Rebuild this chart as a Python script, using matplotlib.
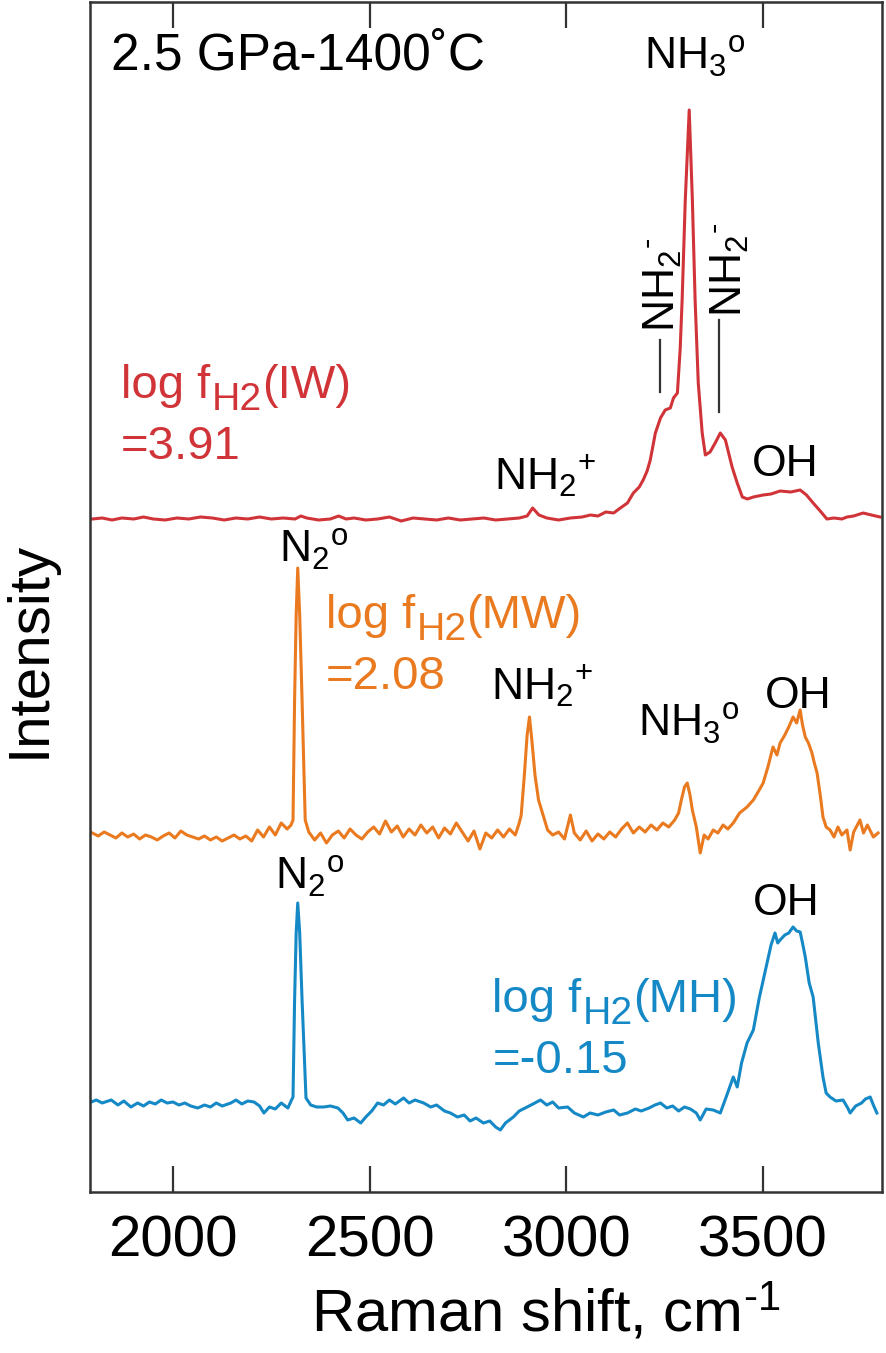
import matplotlib
matplotlib.use("Agg")
import matplotlib.pyplot as plt
import numpy as np

# ── Data (x: Raman shift cm-1, y: intensity above own baseline, a.u.) ──

red_shift = [1795, 1820, 1845, 1870, 1900, 1925, 1950, 1980, 2010, 2040, 2070, 2100,
             2130, 2160, 2190, 2220, 2250, 2280, 2310, 2325, 2340, 2370, 2400, 2421,
             2440, 2460, 2490, 2520, 2550, 2580, 2610, 2640, 2670, 2700, 2730, 2760,
             2790, 2820, 2850, 2880, 2900, 2914, 2930, 2950, 2980, 3010, 3040, 3061,
             3080, 3100, 3120, 3137, 3155, 3170, 3185, 3195, 3205, 3213, 3226, 3239,
             3251, 3264, 3272, 3282, 3289, 3294, 3302, 3312, 3320, 3327, 3335, 3345,
             3353, 3365, 3378, 3391, 3404, 3421, 3434, 3447, 3460, 3475, 3500, 3520,
             3543, 3570, 3594, 3610, 3627, 3645, 3662, 3680, 3700, 3713, 3730, 3754,
             3775, 3797]
red_int = [0, 1, -1, 1, 0, 2, 0, -1, 1, 0, 2, 1,
           -1, 1, 0, 2, 0, 1, 0, 3, 1, -1, 0, 3,
           0, 1, -1, 0, 2, -2, 1, 0, -1, 1, -1, 0,
           1, -1, 0, 1, 3, 11, 4, 1, -1, 1, 2, 4,
           3, 7, 6, 11, 16, 26, 32, 39, 48, 59, 86, 101,
           109, 111, 121, 126, 170, 219, 319, 409, 319, 219, 136, 86,
           64, 67, 76, 86, 79, 52, 36, 22, 20, 22, 24, 25,
           28, 27, 29, 24, 16, 8, 0, 1, 0, 2, 3, 6,
           4, 2]

orange_shift = [1795, 1810, 1825, 1840, 1855, 1870, 1885, 1900, 1915, 1930, 1945, 1960,
                1975, 1990, 2005, 2020, 2035, 2050, 2065, 2080, 2095, 2110, 2125, 2140,
                2155, 2170, 2185, 2200, 2215, 2230, 2245, 2260, 2275, 2290, 2300, 2305,
                2309, 2313, 2317, 2322, 2328, 2336, 2345, 2360, 2375, 2390, 2405, 2420,
                2435, 2450, 2465, 2480, 2495, 2510, 2525, 2540, 2555, 2570, 2585, 2600,
                2615, 2630, 2645, 2660, 2675, 2690, 2705, 2720, 2735, 2750, 2765, 2780,
                2795, 2810, 2825, 2840, 2855, 2870, 2880, 2885, 2893, 2900, 2906, 2912,
                2920, 2929, 2939, 2952, 2965, 2980, 2995, 3010, 3020, 3035, 3050, 3065,
                3080, 3095, 3110, 3125, 3140, 3155, 3170, 3185, 3200, 3215, 3230, 3245,
                3260, 3275, 3285, 3292, 3300, 3307, 3314, 3320, 3330, 3340, 3350, 3360,
                3373, 3385, 3398, 3410, 3424, 3440, 3459, 3475, 3490, 3500, 3512, 3525,
                3535, 3543, 3555, 3565, 3576, 3585, 3594, 3600, 3607, 3615, 3624, 3630,
                3637, 3645, 3652, 3660, 3670, 3680, 3690, 3700, 3713, 3721, 3730, 3746,
                3755, 3765, 3780, 3792]
orange_int = [2, -1, 3, 0, -3, 2, -2, 1, -4, 0, -2, -5,
              -1, 2, -3, 4, 0, -2, -4, -1, -5, -2, -6, -3,
              0, -4, -1, -6, 5, -2, 8, 0, 12, 6, 10, 15,
              135, 220, 267, 220, 135, 15, 3, -5, 2, -8, 0, 4,
              -3, 6, 0, -4, 3, 8, 1, 14, 3, 9, -2, 6,
              0, 10, 2, 8, -3, 7, 1, 12, 3, -6, 4, -14,
              2, -3, 5, -2, 6, 0, 12, 20, 60, 100, 118, 95,
              60, 35, 22, 5, 0, 3, -4, 20, 2, -5, 4, -6,
              1, -4, 3, -2, 6, 12, 2, 8, 3, 10, 5, 12,
              8, 15, 22, 35, 48, 52, 40, 25, 8, -18, 0, -4,
              5, 2, 10, 6, 12, 22, 28, 35, 45, 52, 68, 88,
              80, 92, 100, 108, 118, 112, 125, 110, 98, 92, 82, 72,
              62, 40, 18, 8, 5, -2, 8, 0, 5, -15, 3, 15,
              2, 10, -2, 2]

blue_shift = [1792, 1805, 1820, 1843, 1860, 1875, 1893, 1910, 1925, 1940, 1955, 1970,
              1985, 2000, 2015, 2030, 2045, 2063, 2080, 2095, 2110, 2125, 2147, 2160,
              2175, 2190, 2206, 2220, 2231, 2245, 2260, 2275, 2292, 2300, 2305, 2309,
              2313, 2317, 2322, 2328, 2338, 2350, 2365, 2383, 2400, 2419, 2432, 2444,
              2460, 2477, 2490, 2505, 2520, 2535, 2550, 2565, 2586, 2600, 2615, 2637,
              2655, 2670, 2690, 2705, 2723, 2740, 2755, 2770, 2789, 2805, 2820, 2832,
              2845, 2865, 2880, 2895, 2910, 2934, 2950, 2965, 2980, 3003, 3020, 3043,
              3060, 3080, 3100, 3120, 3135, 3155, 3175, 3190, 3210, 3225, 3239, 3255,
              3270, 3285, 3300, 3315, 3330, 3340, 3355, 3373, 3391, 3405, 3424, 3434,
              3445, 3459, 3475, 3490, 3510, 3520, 3530, 3537, 3543, 3555, 3565, 3576,
              3585, 3594, 3600, 3607, 3617, 3627, 3640, 3652, 3660, 3670, 3685, 3703,
              3715, 3721, 3735, 3750, 3760, 3772, 3780, 3789]
blue_int = [1, 3, 0, 3, -2, 2, -4, 0, -3, 1, -1, 3,
            0, 1, -2, 0, -3, -5, -2, -4, 0, -3, 0, 3,
            -1, 2, 1, -3, -10, -4, -6, 0, -5, 2, 6, 103,
            170, 200, 170, 103, 5, -2, -4, -4, -3, -5, -10, -17,
            -15, -20, -14, -8, 0, -2, 3, -1, 5, 0, 3, 0,
            -4, -2, -8, -10, -14, -12, -18, -15, -20, -18, -24, -27,
            -20, -14, -8, -5, -2, 3, -2, 1, -5, -4, -10, -14,
            -10, -12, -9, -7, -12, -10, -6, -8, -5, -2, 0, -5,
            -3, -8, -4, -6, -10, -17, -6, -7, -10, 5, 26, 16,
            40, 60, 73, 105, 140, 158, 170, 160, 163, 168, 170, 176,
            172, 171, 160, 146, 120, 106, 60, 26, 10, 6, 2, 3,
            -5, -10, -3, 0, 4, 6, -2, -10]

# vertical stacking offsets of the three spectra
offsets = {"IW": 673, "MW": 357, "MH": 89}

RED = "#D13438"
ORANGE = "#EA7A1F"
BLUE = "#1589C6"
DARK = "#333333"

plt.rcParams["font.family"] = ["Liberation Sans", "DejaVu Sans"]
plt.rcParams["mathtext.fontset"] = "custom"
plt.rcParams["mathtext.rm"] = "Liberation Sans"
plt.rcParams["mathtext.it"] = "Liberation Sans:italic"

fig = plt.figure(figsize=(8.86, 13.53), dpi=100)
ax = fig.add_axes([90 / 886, 1 - 1192 / 1353, 792 / 886, 1190 / 1353])

lw = 2.2
ax.plot(red_shift, np.array(red_int) + offsets["IW"], color=RED, lw=lw)
ax.plot(orange_shift, np.array(orange_int) + offsets["MW"], color=ORANGE, lw=lw)
ax.plot(blue_shift, np.array(blue_int) + offsets["MH"], color=BLUE, lw=lw)

ax.set_xlim(1789, 3802)
ax.set_ylim(0, 1190)
ax.set_xticks([2000, 2500, 3000, 3500])
ax.set_yticks([])
ax.tick_params(axis="x", direction="in", length=19, width=1.6, color=DARK,
               top=True, labelsize=42, pad=16)
for sp in ax.spines.values():
    sp.set_linewidth(1.8)
    sp.set_color(DARK)

ax.set_xlabel("Raman shift, cm$^{\\text{-1}}$", fontsize=43, labelpad=10)
ax.xaxis.label.set_x(0.575)
ax.set_ylabel("Intensity", fontsize=42, labelpad=24)
ax.yaxis.label.set_y(0.456)

# ── Annotations ──
lab = 32
ax.text(1843, 1122, "2.5 GPa-1400˚C", fontsize=37, ha="left", va="baseline")
ax.text(3327, 1122, "NH$_\\mathregular{3}$$^\\mathregular{o}$", fontsize=lab, ha="center", va="baseline")

ax.text(3244, 860, "NH$_\\mathregular{2}$$^\\text{-}$", fontsize=lab, rotation=90,
        ha="center", va="bottom")
ax.text(3416, 875, "NH$_\\mathregular{2}$$^\\text{-}$", fontsize=lab, rotation=90,
        ha="center", va="bottom")
ax.plot([3239, 3239], [800, 852], color=DARK, lw=1.6)
ax.plot([3388, 3388], [780, 872], color=DARK, lw=1.6)

ax.text(2815, 702, "NH$_\\mathregular{2}$$^\\mathregular{+}$", fontsize=lab, ha="left", va="baseline")
ax.text(3472, 716, "OH", fontsize=lab, ha="left", va="baseline")

ax.text(2269, 629, "N$_\\mathregular{2}$$^\\mathregular{o}$", fontsize=lab, ha="left", va="baseline")
ax.text(2807, 492, "NH$_\\mathregular{2}$$^\\mathregular{+}$", fontsize=lab, ha="left", va="baseline")
ax.text(3183, 455, "NH$_\\mathregular{3}$$^\\mathregular{o}$", fontsize=lab, ha="left", va="baseline")
ax.text(3505, 484, "OH", fontsize=lab, ha="left", va="baseline")

ax.text(2259, 302, "N$_\\mathregular{2}$$^\\mathregular{o}$", fontsize=lab, ha="left", va="baseline")
ax.text(3475, 277, "OH", fontsize=lab, ha="left", va="baseline")

# fugacity labels: "log f" + big subscript "H2" + "(buffer)", then "=value"
renderer = fig.canvas.get_renderer()
px2pt = 72.0 / fig.dpi


def fugacity_label(x, y, buffer, value, color, fs=34):
    t1 = ax.text(x, y, "log f", fontsize=fs, color=color, ha="left", va="baseline")
    w1 = t1.get_window_extent(renderer).width * px2pt
    t2 = ax.annotate("H2", xy=(x, y), xytext=(w1 + 1, -9), textcoords="offset points",
                     fontsize=fs * 0.83, color=color, ha="left", va="baseline")
    w2 = t2.get_window_extent(renderer).width * px2pt
    ax.annotate("(" + buffer + ")", xy=(x, y), xytext=(w1 + w2 + 1, 0),
                textcoords="offset points", fontsize=fs, color=color,
                ha="left", va="baseline")
    ax.annotate(value, xy=(x, y), xytext=(0, -44), textcoords="offset points",
                fontsize=fs, color=color, ha="left", va="baseline")


fugacity_label(1868, 794, "IW", "=3.91", RED)
fugacity_label(2388, 564, "MW", "=2.08", ORANGE)
fugacity_label(2812, 180, "MH", "=-0.15", BLUE)

fig.savefig("out.png", dpi=100)
